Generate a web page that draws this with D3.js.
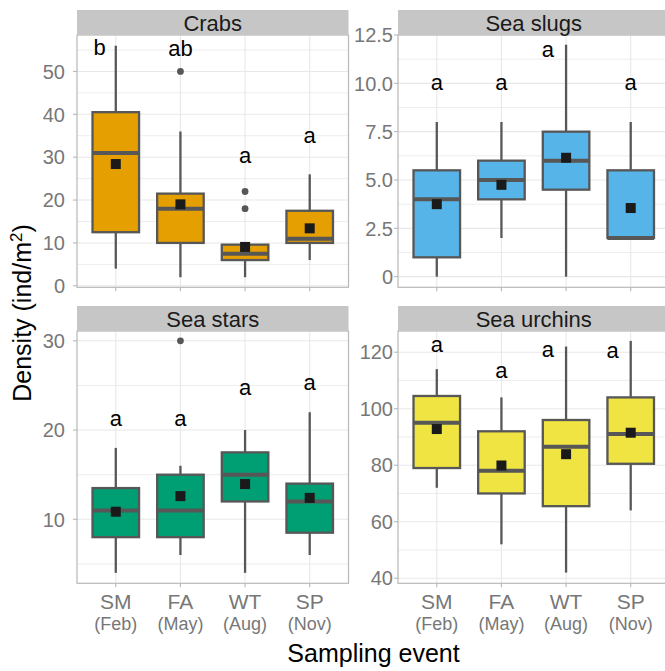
<!DOCTYPE html>
<html>
<head>
<meta charset="utf-8">
<script src="https://cdn.jsdelivr.net/npm/d3@7"></script>
<style>
  body { margin: 0; background: #fff; }
  text { font-family: "Liberation Sans", Arial, sans-serif; }
</style>
</head>
<body>
<svg width="665" height="671"></svg>
<script>
// sampling events on the x axis
var events = ["SM", "FA", "WT", "SP"];
var months = ["(Feb)", "(May)", "(Aug)", "(Nov)"];
var taxa = ["Crabs", "Sea slugs", "Sea stars", "Sea urchins"];

// box stats per event: [lower whisker, q1, median, q3, upper whisker]
var crabsBox = [[4, 12.5, 31, 40.5, 56], [2, 10, 18, 21.5, 36], [2, 6, 7.5, 9.6, 9.6], [6, 10, 11, 17.5, 26]];
var crabsMean = [28.4, 19, 9.07, 13.4];
var crabsOut = [[], [50], [18, 22], []];
var crabsLetters = ["b", "ab", "a", "a"];
var crabsLetterY = [53.9, 53.5, 28.55, 33.4];

var slugsBox = [[0, 1, 4, 5.5, 8], [2, 4, 5, 6, 8], [0, 4.5, 6, 7.5, 12], [2, 2, 2, 5.5, 8]];
var slugsMean = [3.75, 4.75, 6.15, 3.55];
var slugsOut = [[], [], [], []];
var slugsLetters = ["a", "a", "a", "a"];
var slugsLetterY = [9.63, 9.63, 11.35, 9.63];

var starsBox = [[4, 8, 11, 13.5, 18], [6, 8, 11, 15, 16], [4, 12, 15, 17.5, 20], [6, 8.5, 12, 14, 22]];
var starsMean = [10.85, 12.6, 13.95, 12.4];
var starsOut = [[], [30], [], []];
var starsLetters = ["a", "a", "a", "a"];
var starsLetterY = [20.4, 20.4, 23.9, 24.5];

var urchinsBox = [[72, 79, 95, 104.5, 114], [52, 70, 78, 92, 104], [42, 65.5, 86.5, 96, 122], [64, 80.5, 91, 104, 124]];
var urchinsMean = [92.8, 79.9, 83.9, 91.5];
var urchinsOut = [[], [], [], []];
var urchinsLetters = ["a", "a", "a", "a"];
var urchinsLetterY = [119.9, 110.8, 118.4, 117.9];

// y axis ticks and labels
var crabsTicks = [0, 10, 20, 30, 40, 50];
var slugsTicks = [0, 2.5, 5, 7.5, 10, 12.5];
var slugsTickLabels = ["0", "2.5", "5.0", "7.5", "10.0", "12.5"];
var starsTicks = [10, 20, 30];
var urchinsTicks = [40, 60, 80, 100, 120];

var colors = ["#E69F00", "#56B4E9", "#009E73", "#F0E442"];

var panels = [
    { box: crabsBox, mean: crabsMean, out: crabsOut, letters: crabsLetters, letterY: crabsLetterY,
      ticks: crabsTicks, labels: null, domain: [-0.35, 58.5], nudge: [-0.25, 0, 0, 0] },
    { box: slugsBox, mean: slugsMean, out: slugsOut, letters: slugsLetters, letterY: slugsLetterY,
      ticks: slugsTicks, labels: slugsTickLabels, domain: [-0.55, 12.5], nudge: [0, 0, -0.28, 0] },
    { box: starsBox, mean: starsMean, out: starsOut, letters: starsLetters, letterY: starsLetterY,
      ticks: starsTicks, labels: null, domain: [2.83, 31.1], nudge: [0, 0, 0, 0] },
    { box: urchinsBox, mean: urchinsMean, out: urchinsOut, letters: urchinsLetters, letterY: urchinsLetterY,
      ticks: urchinsTicks, labels: null, domain: [38.2, 127.5], nudge: [0, 0, -0.28, -0.28] }
];

var svg = d3.select("svg");

var colX = [77, 398],
    rowY = [10, 306],
    panelW = 271.5,
    stripH = 25,
    plotH = 252.3,
    labelEnd = [65, 393];

var gridCol = "#e8e8e8",
    borderCol = "#b8b8b8",
    boxLine = "#575757";

panels.forEach(function (p, i) {
    var col = i % 2, row = Math.floor(i / 2);
    var left = colX[col], top = rowY[row] + stripH, bottom = top + plotH;
    var g = svg.append("g");

    var x = d3.scalePoint().domain(events).range([left, left + panelW]).padding(0.6);
    var y = d3.scaleLinear().domain(p.domain).range([bottom, top]);

    // minor grid
    var step = p.ticks[1] - p.ticks[0];
    var minor = d3.range(p.ticks[0] - step / 2, p.ticks[p.ticks.length - 1] + step, step)
        .filter(function (v) { return v > p.domain[0] && v < p.domain[1]; });

    g.selectAll(".minor").data(minor).enter().append("line")
        .attr("x1", left).attr("x2", left + panelW)
        .attr("y1", function (d) { return y(d); }).attr("y2", function (d) { return y(d); })
        .attr("stroke", gridCol).attr("stroke-width", 0.8);

    g.selectAll(".major").data(p.ticks).enter().append("line")
        .attr("x1", left).attr("x2", left + panelW)
        .attr("y1", function (d) { return y(d); }).attr("y2", function (d) { return y(d); })
        .attr("stroke", gridCol).attr("stroke-width", 1.1);

    g.selectAll(".vgrid").data(events).enter().append("line")
        .attr("x1", function (d) { return x(d); }).attr("x2", function (d) { return x(d); })
        .attr("y1", top).attr("y2", bottom)
        .attr("stroke", gridCol).attr("stroke-width", 1.1);

    // boxes
    var bw = x.step() * 0.72;
    events.forEach(function (ev, j) {
        var s = p.box[j], cx = x(ev);
        g.append("line")
            .attr("x1", cx).attr("x2", cx).attr("y1", y(s[4])).attr("y2", y(s[3]))
            .attr("stroke", boxLine).attr("stroke-width", 2.3);
        g.append("line")
            .attr("x1", cx).attr("x2", cx).attr("y1", y(s[1])).attr("y2", y(s[0]))
            .attr("stroke", boxLine).attr("stroke-width", 2.3);
        g.append("rect")
            .attr("x", cx - bw / 2).attr("y", y(s[3]))
            .attr("width", bw).attr("height", y(s[1]) - y(s[3]))
            .attr("fill", colors[i]).attr("stroke", boxLine).attr("stroke-width", 2.3);
        g.append("line")
            .attr("x1", cx - bw / 2).attr("x2", cx + bw / 2)
            .attr("y1", y(s[2])).attr("y2", y(s[2]))
            .attr("stroke", boxLine).attr("stroke-width", 4);

        g.selectAll(null).data(p.out[j]).enter().append("circle")
            .attr("cx", cx).attr("cy", function (d) { return y(d); })
            .attr("r", 3.4).attr("fill", boxLine);

        g.append("rect")
            .attr("x", cx - 5).attr("y", y(p.mean[j]) - 5)
            .attr("width", 10).attr("height", 10)
            .attr("fill", "#1a1a1a");

        g.append("text")
            .attr("x", cx + p.nudge[j] * x.step())
            .attr("y", y(p.letterY[j]))
            .attr("text-anchor", "middle")
            .attr("font-size", "22px")
            .attr("fill", "#000")
            .text(p.letters[j]);
    });

    // panel border
    g.append("rect")
        .attr("x", left).attr("y", top).attr("width", panelW).attr("height", plotH)
        .attr("fill", "none").attr("stroke", borderCol).attr("stroke-width", 1.2);

    // strip
    g.append("rect")
        .attr("x", left).attr("y", rowY[row]).attr("width", panelW).attr("height", stripH)
        .attr("fill", "#c6c6c6");
    g.append("text")
        .attr("x", left + panelW / 2).attr("y", rowY[row] + 21)
        .attr("text-anchor", "middle").attr("font-size", "22px").attr("fill", "#1a1a1a")
        .text(taxa[i]);

    // y axis ticks + labels
    g.selectAll(".yt").data(p.ticks).enter().append("line")
        .attr("x1", left - 4).attr("x2", left)
        .attr("y1", function (d) { return y(d); }).attr("y2", function (d) { return y(d); })
        .attr("stroke", borderCol).attr("stroke-width", 1.1);
    g.selectAll(".yl").data(p.ticks).enter().append("text")
        .attr("x", labelEnd[col])
        .attr("y", function (d) { return y(d); })
        .attr("dy", "0.36em")
        .attr("text-anchor", "end")
        .attr("font-size", "20px")
        .attr("fill", "#777")
        .text(function (d, k) { return p.labels ? p.labels[k] : d; });

    // x ticks
    g.selectAll(".xt").data(events).enter().append("line")
        .attr("x1", function (d) { return x(d); }).attr("x2", function (d) { return x(d); })
        .attr("y1", bottom).attr("y2", bottom + 4)
        .attr("stroke", borderCol).attr("stroke-width", 1.1);

    if (row === 1) {
        g.selectAll(".xl").data(events).enter().append("text")
            .attr("x", function (d) { return x(d); })
            .attr("y", 609)
            .attr("text-anchor", "middle").attr("font-size", "21px").attr("fill", "#777")
            .text(function (d) { return d; });
        g.selectAll(".xm").data(months).enter().append("text")
            .attr("x", function (d, k) { return x(events[k]); })
            .attr("y", 630)
            .attr("text-anchor", "middle").attr("font-size", "18px").attr("fill", "#777")
            .text(function (d) { return d; });
    }
});

// axis titles
svg.append("text")
    .attr("x", 373.5).attr("y", 662)
    .attr("text-anchor", "middle").attr("font-size", "25px").attr("fill", "#000")
    .text("Sampling event");

var yt = svg.append("text")
    .attr("transform", "translate(31,313) rotate(-90)")
    .attr("text-anchor", "middle").attr("font-size", "25px").attr("fill", "#000");
yt.append("tspan").text("Density (ind/m");
yt.append("tspan").attr("font-size", "17px").attr("dy", "-9").text("2");
yt.append("tspan").attr("dy", "9").text(")");
</script>
</body>
</html>
